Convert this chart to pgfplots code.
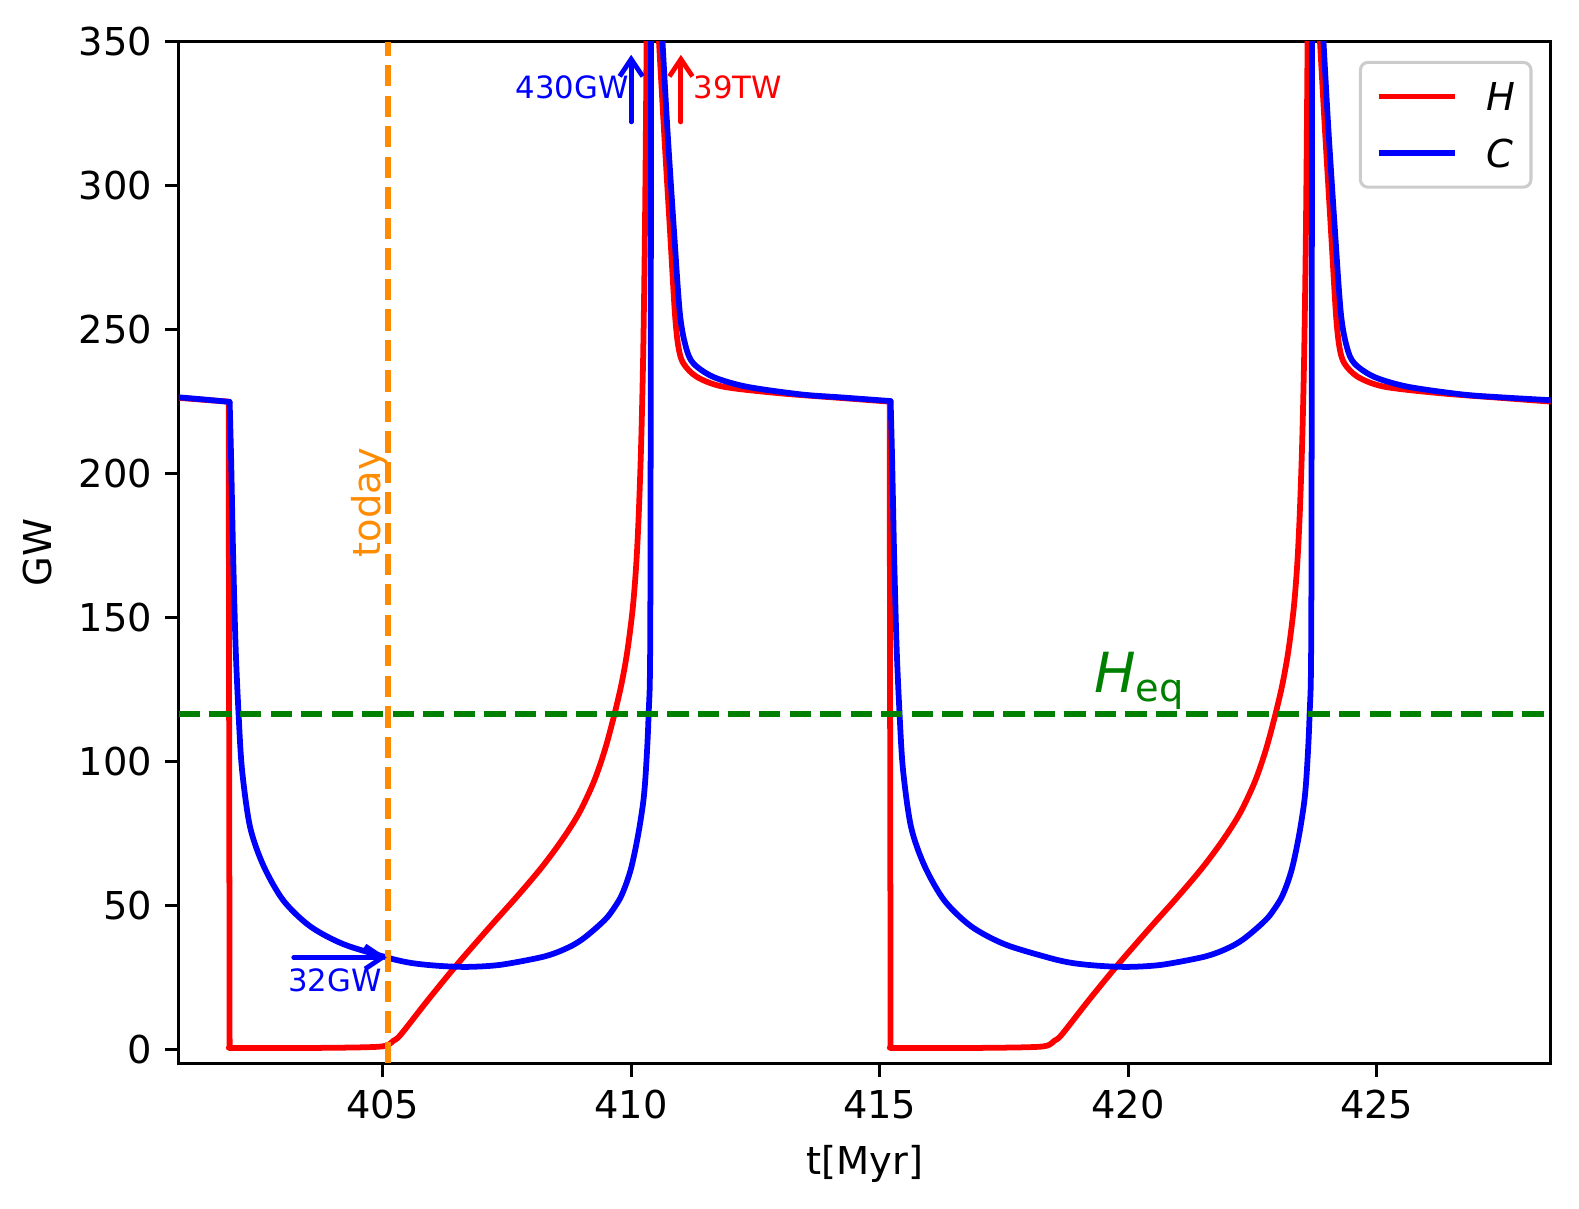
\documentclass[border=0pt]{standalone}
\usepackage{fontspec}
\setmainfont{DejaVu Sans}
\usepackage{pgfplots}
\pgfplotsset{compat=1.18}
\usetikzlibrary{arrows.meta}
\definecolor{mplgreen}{HTML}{008000}
\definecolor{mplorange}{HTML}{FF8C00}
\definecolor{mplred}{HTML}{FF0000}
\definecolor{mplblue}{HTML}{0000FF}
\pgfplotsset{
  Hst/.style={mplred, line width=1.5pt, line join=round, line cap=round},
  Cst/.style={mplblue, line width=1.5pt, line join=round, line cap=round},
}
\begin{document}
\begin{tikzpicture}
\begin{axis}[
  name=ax,
  scale only axis,
  width=357.2pt, height=266.0pt,
  xmin=400.9, xmax=428.5, ymin=-4.9, ymax=350,
  xtick={405,410,415,420,425},
  ytick={0,50,100,150,200,250,300,350},
  tick align=outside, tick pos=left,
  major tick length=3.5pt,
  every tick/.style={black, line width=0.8pt},
  axis line style={line width=0.8pt},
  /pgf/number format/assume math mode=true,
  tick label style={font=\fontsize{10}{12}\selectfont},
  label style={font=\fontsize{10}{12}\selectfont},
  xlabel={t[Myr]}, ylabel={GW},
  legend cell align=left,
  legend image code/.code={\draw[#1, line cap=butt] (0pt,0pt) -- (20pt,0pt);},
  legend style={at={(0.9868,0.9814)}, anchor=north east,
    draw=black!20, line width=0.8pt, rounded corners=2pt, fill=white,
    inner xsep=4pt, inner ysep=5.2pt, row sep=7.5pt, column sep=7.4pt,
    nodes={inner sep=0pt, text height=7.3pt, text depth=0pt,
      font=\fontsize{10}{12}\selectfont}},
]
% ---------------- H (red) ----------------
\addplot[Hst] coordinates {
(400.90,226.3) (401.50,225.5) (401.90,225.0) (401.92,0.6)
};
\addlegendentry{\textit{H}}
\addplot[Hst, smooth, forget plot] coordinates {
(401.92,0.6) (402.00,0.4) (403.00,0.4) (404.00,0.5) (404.70,0.7)
(405.00,1.0) (405.12,1.6) (405.22,3.0) (405.36,5.0) (405.92,17.3)
(406.49,29.3) (407.14,42.2) (407.72,53.4) (408.20,63.2) (408.60,72.5)
(408.95,82.0) (409.25,93.0) (409.47,104.0) (409.65,115.5) (409.80,126.5)
(409.92,138.0) (410.03,153.0) (410.10,168.0) (410.15,185.0) (410.20,210.0)
(410.24,240.0) (410.27,275.0) (410.29,308.0) (410.31,350.0)
};
\addplot[Hst, forget plot] coordinates {(410.31,350.0) (410.43,1200) (410.56,350.0)};
\addplot[Hst, smooth, forget plot] coordinates {
(410.56,350.0) (410.66,319.3) (410.78,284.6) (410.88,255.6) (410.95,244.0)
(411.05,238.3) (411.32,233.6) (411.85,230.2) (412.99,227.9) (414.20,226.3)
(415.20,225.0)
};
\addplot[Hst, forget plot] coordinates {(415.20,225.0) (415.22,0.6)};
\addplot[Hst, smooth, forget plot] coordinates {
(415.22,0.6) (415.30,0.4) (416.30,0.4) (417.30,0.5) (418.00,0.7)
(418.30,1.0) (418.42,1.6) (418.52,3.0) (418.66,5.0) (419.22,17.3)
(419.79,29.3) (420.44,42.2) (421.02,53.4) (421.50,63.2) (421.90,72.5)
(422.25,82.0) (422.55,93.0) (422.77,104.0) (422.95,115.5) (423.10,126.5)
(423.22,138.0) (423.33,153.0) (423.40,168.0) (423.45,185.0) (423.50,210.0)
(423.54,240.0) (423.57,275.0) (423.59,308.0) (423.61,350.0)
};
\addplot[Hst, forget plot] coordinates {(423.61,350.0) (423.73,1200) (423.86,350.0)};
\addplot[Hst, smooth, forget plot] coordinates {
(423.86,350.0) (423.96,319.3) (424.08,284.6) (424.18,255.6) (424.25,244.0)
(424.35,238.3) (424.62,233.6) (425.15,230.2) (426.29,227.9) (427.50,226.3)
(428.50,225.0)
};
% ---------------- C (blue) ----------------
\addplot[Cst] coordinates {
(400.90,226.5) (401.50,225.6) (401.92,224.9)
};
\addlegendentry{\textit{C}}
\addplot[Cst, smooth, forget plot] coordinates {
(401.92,224.9) (401.95,205.0) (401.99,172.0) (402.04,140.0) (402.10,116.5)
(402.17,97.0) (402.33,77.3) (402.60,63.8) (403.00,51.7) (403.54,42.7)
(404.21,36.5) (405.08,31.9) (405.56,30.0) (406.10,29.0) (406.70,28.6)
(407.36,29.3) (408.15,31.8) (408.50,33.6) (408.80,35.9) (409.00,38.0)
(409.17,40.3) (409.37,43.3)
(409.55,46.5) (409.77,52.2) (409.90,57.5) (410.00,63.0) (410.09,70.0)
(410.17,77.5) (410.25,87.0) (410.30,98.0) (410.35,116.3) (410.385,150.0)
(410.40,350.0)
};
\addplot[Cst, forget plot] coordinates {(410.40,350.0) (410.52,1200) (410.63,350.0)};
\addplot[Cst, smooth, forget plot] coordinates {
(410.63,350.0) (410.73,319.3) (410.86,284.6) (410.98,255.6) (411.10,244.0)
(411.25,238.3) (411.65,233.6) (412.32,230.2) (413.42,227.5) (414.20,226.5)
(415.22,225.2)
};
\addplot[Cst, smooth, forget plot] coordinates {
(415.22,225.2) (415.25,205.0) (415.29,172.0) (415.34,140.0) (415.40,116.5)
(415.47,97.0) (415.63,77.3) (415.90,63.8) (416.30,51.7) (416.84,42.7)
(417.51,36.5) (418.38,31.9) (418.86,30.0) (419.40,29.0) (420.00,28.6)
(420.66,29.3) (421.45,31.8) (421.80,33.6) (422.10,35.9) (422.30,38.0)
(422.47,40.3) (422.67,43.3)
(422.85,46.5) (423.07,52.2) (423.20,57.5) (423.30,63.0) (423.39,70.0)
(423.47,77.5) (423.55,87.0) (423.60,98.0) (423.65,116.3) (423.685,150.0)
(423.70,350.0)
};
\addplot[Cst, forget plot] coordinates {(423.70,350.0) (423.82,1200) (423.93,350.0)};
\addplot[Cst, smooth, forget plot] coordinates {
(423.93,350.0) (424.03,319.3) (424.16,284.6) (424.28,255.6) (424.40,244.0)
(424.55,238.3) (424.95,233.6) (425.62,230.2) (426.72,227.5) (427.50,226.5)
(428.50,225.5)
};
% ---------------- reference lines ----------------
\addplot[mplgreen, line width=1.5pt, dash pattern=on 5.55pt off 2.4pt, forget plot]
  coordinates {(400.9,116.4) (428.5,116.4)};
\addplot[mplorange, line width=1.5pt, dash pattern=on 5.55pt off 2.4pt, forget plot]
  coordinates {(405.1,-4.9) (405.1,350)};
\node[mplorange, rotate=90, anchor=base west, inner sep=0pt,
  font=\fontsize{10}{12}\selectfont] at (axis cs:404.96,170.7) {today};
\node[mplgreen, anchor=base west, inner sep=0pt,
  font=\fontsize{14.4}{17}\selectfont] at (axis cs:419.3,123.8) {\textit{H}\textsubscript{eq}};
\draw[mplblue, line width=1.25pt, line cap=round, -{Straight Barb[length=4.5pt,width=6pt]}]
  (axis cs:410,322.2) -- (axis cs:410,345.5);
\draw[mplred, line width=1.25pt, line cap=round, -{Straight Barb[length=4.5pt,width=6pt]}]
  (axis cs:411,322.2) -- (axis cs:411,345.5);
\draw[mplblue, line width=1.25pt, line cap=round, -{Straight Barb[length=4.5pt,width=6pt]}]
  (axis cs:403.21,31.9) -- (axis cs:405.08,31.9);
\node[mplblue, anchor=base east, inner sep=0pt,
  font=\fontsize{8}{10}\selectfont] at (axis cs:409.96,330.2) {430GW};
\node[mplred, anchor=base west, inner sep=0pt,
  font=\fontsize{8}{10}\selectfont] at (axis cs:411.24,330.2) {39TW};
\node[mplblue, anchor=base, inner sep=0pt,
  font=\fontsize{8}{10}\selectfont] at (axis cs:404.04,20.1) {32GW};
\end{axis}
\pgfresetboundingbox
\path ([xshift=-46.6pt,yshift=-37.7pt]ax.south west) rectangle ([xshift=7.4pt,yshift=10.9pt]ax.north east);
\end{tikzpicture}
\end{document}
